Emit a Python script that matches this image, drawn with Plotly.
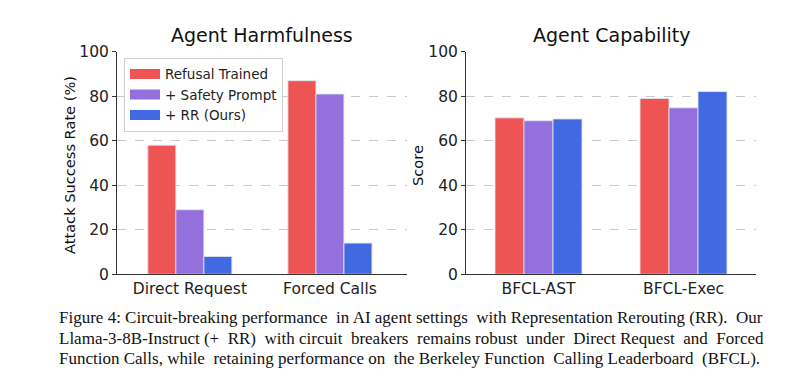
import plotly.graph_objects as go

W, H = 800, 387

harm_categories = ["Direct Request", "Forced Calls"]
cap_categories = ["BFCL-AST", "BFCL-Exec"]
series_names = ["Refusal Trained", "+ Safety Prompt", "+ RR (Ours)"]
harm_refusal = [58, 87]
harm_safety = [29, 81]
harm_rr = [8, 14]
cap_refusal = [70.3, 79.0]
cap_safety = [69.0, 74.8]
cap_rr = [69.8, 82.1]
y_ticks = [0, 20, 40, 60, 80, 100]
colors = ["#EF5454", "#9370DB", "#4169E1"]
caption_lines = [
    "Figure 4: Circuit-breaking performance in AI agent settings with Representation Rerouting (RR). Our",
    "Llama-3-8B-Instruct (+ RR) with circuit breakers remains robust under Direct Request and Forced",
    "Function Calls, while retaining performance on the Berkeley Function Calling Leaderboard (BFCL).",
]
caption_extra_spaces = [3, 8, 4]

# screen-position helpers (compensate for page offset)
def px(x):
    return (x - 8) / W

def py(y):
    return 1 - ((y - 15) / 0.96) / H

def justify(line, extra):
    words = line.split(" ")
    gaps = len(words) - 1
    out = words[0]
    for g in range(gaps):
        add = (int((g + 1) * extra / gaps) - int(g * extra / gaps))
        out += " " + "\u00a0" * add + words[g + 1]
    return out

fig = go.Figure()
harm = [harm_refusal, harm_safety, harm_rr]
cap = [cap_refusal, cap_safety, cap_rr]
bar_line = dict(color="rgba(225,225,235,0.9)", width=1)
for i, name in enumerate(series_names):
    fig.add_trace(go.Bar(x=harm_categories, y=harm[i], name=name, marker_color=colors[i],
                         marker_line=bar_line, xaxis="x", yaxis="y",
                         offsetgroup=str(i), showlegend=False))
for i, name in enumerate(series_names):
    fig.add_trace(go.Bar(x=cap_categories, y=cap[i], name=name, marker_color=colors[i],
                         marker_line=bar_line, xaxis="x2", yaxis="y2",
                         offsetgroup=str(i), showlegend=False))
# legend entries drawn as wide swatches
for i, name in enumerate(series_names):
    fig.add_trace(go.Scatter(x=[None], y=[None], mode="lines", name=name,
                             line=dict(color=colors[i], width=10),
                             xaxis="x", yaxis="y", showlegend=True))

font_family = "DejaVu Sans"
axis_common = dict(showline=True, linecolor="#333333", linewidth=1, showgrid=False,
                   tickfont=dict(family=font_family, size=15.5, color="#222222"))
yaxis_common = dict(showline=True, linecolor="#333333", linewidth=1, range=[0, 100],
                    tickvals=y_ticks, ticks="outside", ticklen=4, tickcolor="#333333",
                    showgrid=True, gridcolor="#c8c8c8", griddash="dash", gridwidth=0.8,
                    zeroline=False,
                    tickfont=dict(family=font_family, size=15.5, color="#222222"))

fig.update_layout(
    width=W, height=H,
    margin=dict(l=0, r=0, t=0, b=0),
    paper_bgcolor="white", plot_bgcolor="white",
    barmode="group", bargap=0.4, bargroupgap=0,
    xaxis=dict(domain=[px(117), px(407)], range=[-0.52, 1.55], anchor="y", **axis_common),
    yaxis=dict(domain=[py(274), py(50)], anchor="x", **yaxis_common),
    xaxis2=dict(domain=[px(466), px(756)], range=[-0.5, 1.5], anchor="y2", **axis_common),
    yaxis2=dict(domain=[py(274), py(50)], anchor="x2", **yaxis_common),
    legend=dict(x=px(124), y=py(56), xanchor="left", yanchor="top",
                bgcolor="rgba(255,255,255,0.9)", bordercolor="#d0d0d0", borderwidth=1,
                font=dict(family=font_family, size=13.5, color="#222222"),
                tracegroupgap=0, itemwidth=30),
    showlegend=True,
)

annotations = [
    dict(text="Agent Harmfulness", x=px(262), y=py(33), font=dict(size=19)),
    dict(text="Agent Capability", x=px(611), y=py(33), font=dict(size=19)),
    dict(text="Attack Success Rate (%)", x=px(70), y=py(164), textangle=-90, font=dict(size=14.6)),
    dict(text="Score", x=px(418), y=py(164), textangle=-90, font=dict(size=14.6)),
]
for a in annotations:
    a.update(xref="paper", yref="paper", showarrow=False, xanchor="center", yanchor="middle")
    a["font"].update(family=font_family, color="#111111")
    fig.add_annotation(**a)

for i, line in enumerate(caption_lines):
    fig.add_annotation(text=justify(line, caption_extra_spaces[i]), x=px(57),
                       y=py(318 + 20.5 * i), xref="paper", yref="paper",
                       showarrow=False, xanchor="left", yanchor="middle",
                       font=dict(family="Liberation Serif", size=17, color="#111111"))

fig.write_html("out.html")
